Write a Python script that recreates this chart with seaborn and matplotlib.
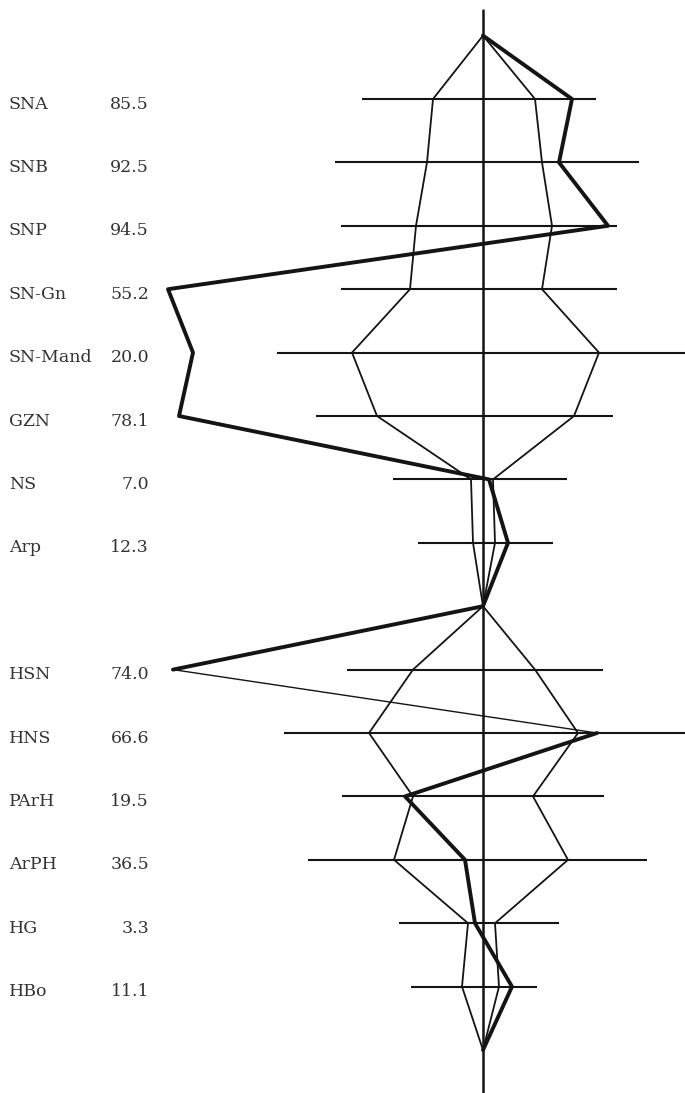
import numpy as np
import pandas as pd
import matplotlib
matplotlib.use("Agg")
import matplotlib.pyplot as plt
import matplotlib.transforms as mtransforms
import seaborn as sns

# measures (upper block: skull, lower block: face heights)
names = ["SNA", "SNB", "SNP", "SN-Gn", "SN-Mand", "GZN", "NS", "Arp",
         "HSN", "HNS", "PArH", "ArPH", "HG", "HBo"]
values = ["85.5", "92.5", "94.5", "55.2", "20.0", "78.1", "7.0", "12.3",
          "74.0", "66.6", "19.5", "36.5", "3.3", "11.1"]

# deviation from norm, arbitrary scale units
range_lo = [-12.1, -14.8, -14.2, -14.2, -20.6, -16.7, -9.0, -6.5,
            -13.6, -19.9, -14.1, -17.5, -8.4, -7.2]
range_hi = [11.3, 15.6, 13.4, 13.4, 21.0, 13.0, 8.4, 7.0,
            12.0, 20.5, 12.1, 16.4, 7.6, 5.4]
inner_lo = [-5.0, -5.6, -6.7, -7.3, -13.1, -10.6, -1.2, -1.0,
            -7.0, -11.4, -7.0, -8.9, -1.5, -2.1]
inner_hi = [5.2, 5.9, 6.9, 5.9, 11.6, 9.1, 1.0, 1.2,
            5.2, 9.5, 5.0, 8.5, 1.2, 1.6]
patient = [8.9, 7.6, 12.5, -31.5, -29.0, -30.4, 0.6, 2.5,
           -31.0, 11.4, -7.8, -1.8, -0.8, 2.9]

n_up = 8

sns.set_style("white")
plt.rcParams["font.family"] = ["DejaVu Serif", "Liberation Serif"]

fig = plt.figure(figsize=(6.85, 10.93), dpi=100)
ax = fig.add_axes([0, 0, 1, 1])

# row index: upper rows 0..7, apex at 8, lower rows 9..14; apexes at -1 and 15
rows = list(range(n_up)) + list(range(n_up + 1, len(names) + 1))
apex_top, apex_mid, apex_bot = -1, n_up, len(names) + 1


def chain(vals):
    xs = [0] + vals[:n_up] + [0] + vals[n_up:] + [0]
    ys = [apex_top] + rows[:n_up] + [apex_mid] + rows[n_up:] + [apex_bot]
    return pd.DataFrame({"x": xs, "y": ys})


ink = "#141414"

# range bars
ax.hlines(rows, range_lo, range_hi, color=ink, lw=1.5)

# norm polygon
for side in (inner_lo, inner_hi):
    sns.lineplot(data=chain(side), x="x", y="y", sort=False, estimator=None,
                 color=ink, lw=1.3, ax=ax)

# patient profile (HSN -> HNS drawn thin as in the print)
pat = chain(patient)
cut = n_up + 2  # index of HSN in chain
sns.lineplot(data=pat.iloc[:cut + 1], x="x", y="y", sort=False, estimator=None,
             color=ink, lw=2.8, ax=ax)
sns.lineplot(data=pat.iloc[cut:cut + 2], x="x", y="y", sort=False, estimator=None,
             color=ink, lw=1.0, ax=ax)
sns.lineplot(data=pat.iloc[cut + 1:], x="x", y="y", sort=False, estimator=None,
             color=ink, lw=2.8, ax=ax)

ax.axvline(0, ymin=0, ymax=1 - 10 / 1093, color=ink, lw=1.8)

ax.set_xlim(-48.3, 20.2)
ax.set_ylim(15.678, -1.5615)
ax.set_axis_off()

trans = mtransforms.blended_transform_factory(ax.transAxes, ax.transData)
for r, name, val in zip(rows, names, values):
    ax.text(9 / 685, r + 0.08, name, transform=trans, ha="left", va="center",
            fontsize=12.5, color="#333333")
    ax.text(149 / 685, r + 0.08, val, transform=trans, ha="right", va="center",
            fontsize=12.5, color="#333333")

fig.savefig("out.png", dpi=100, facecolor="white")
